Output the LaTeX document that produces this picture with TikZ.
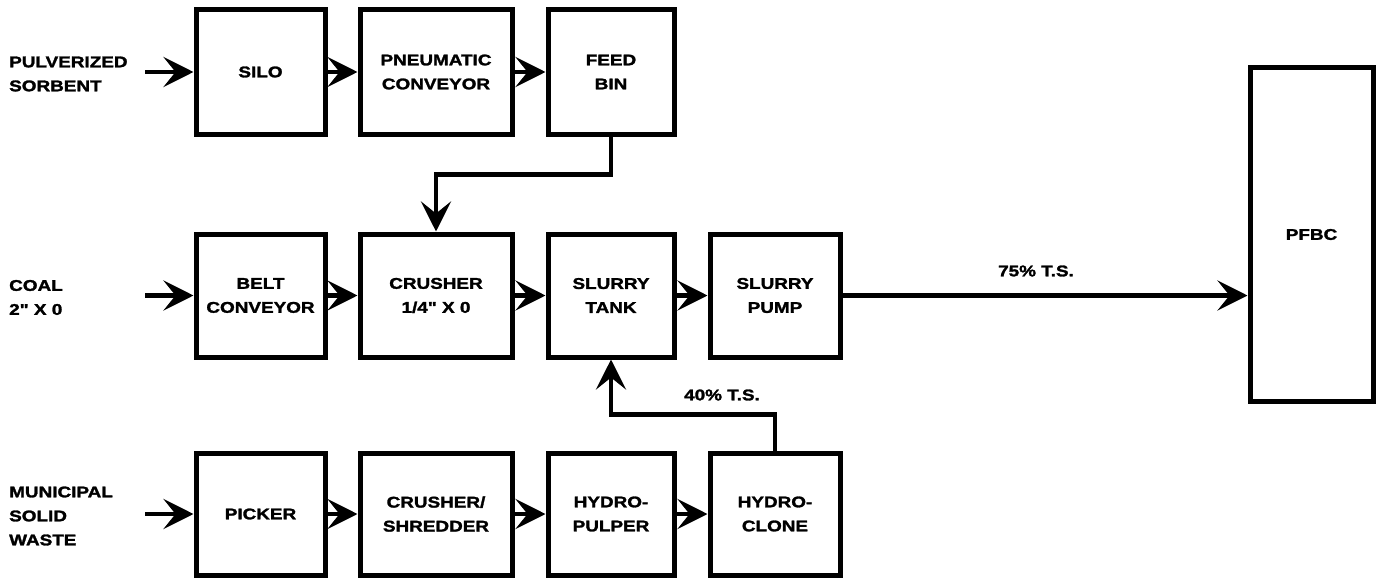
\documentclass[tikz,border=0pt]{standalone}
\usepackage{fontspec}
\setmainfont{Liberation Sans}[FakeStretch=1.22]
\newfontfamily\heavyfont{Liberation Sans}[FakeStretch=1.22, BoldFeatures={FakeBold=1.8}]
\usetikzlibrary{arrows.meta}
\newcommand{\inch}{\char34\relax}
\tikzset{
  txt/.style={font=\heavyfont\fontsize{15.5}{24}\selectfont\bfseries},
  blk/.style={draw, line width=5pt, inner sep=0pt, align=center, txt},
  lbl/.style={inner sep=0pt, align=left, anchor=west, txt},
  tag/.style={inner sep=0pt, txt},
  arr/.style={line width=4.5pt, -{Stealth[length=30pt,width=30pt,inset=12pt]}},
}
\begin{document}
\begin{tikzpicture}[x=1pt,y=-1pt]
\useasboundingbox (0,0) rectangle (1384,578);
% row 1
\node[blk, minimum width=129pt, minimum height=124pt] (silo) at (260.5,72) {SILO};
\node[blk, minimum width=152pt, minimum height=124pt] (pc) at (436,72) {PNEUMATIC\\CONVEYOR};
\node[blk, minimum width=126pt, minimum height=124pt] (fb) at (611,72) {FEED\\BIN};
% row 2
\node[blk, minimum width=129pt, minimum height=123pt] (bc) at (260.5,295.5) {BELT\\CONVEYOR};
\node[blk, minimum width=152pt, minimum height=123pt] (cr) at (436,295.5) {CRUSHER\\1/4\inch{} X 0};
\node[blk, minimum width=126pt, minimum height=123pt] (st) at (611,295.5) {SLURRY\\TANK};
\node[blk, minimum width=130pt, minimum height=123pt] (sp) at (775,295.5) {SLURRY\\PUMP};
% row 3
\node[blk, minimum width=129pt, minimum height=122pt] (pk) at (260.5,514) {PICKER};
\node[blk, minimum width=152pt, minimum height=122pt] (cs) at (436,514) {CRUSHER/\\SHREDDER};
\node[blk, minimum width=126pt, minimum height=122pt] (hp) at (611,514) {HYDRO-\\PULPER};
\node[blk, minimum width=130pt, minimum height=122pt] (hc) at (775,514) {HYDRO-\\CLONE};
% PFBC
\node[blk, minimum width=123pt, minimum height=333pt] (pf) at (1311.5,234.5) {PFBC};
% labels
\node[lbl] (l1) at (9,74) {PULVERIZED\\SORBENT};
\node[lbl] (l2) at (9,297.5) {COAL\\2\inch{} X 0};
\node[lbl] (l3) at (9,516) {MUNICIPAL\\SOLID\\WASTE};
\node[tag] (t75) at (1036,271) {75\% T.S.};
\node[tag] (t40) at (722,395) {40\% T.S.};
% input start points
\coordinate (i1) at (145,72);
\coordinate (i2) at (145,295.5);
\coordinate (i3) at (145,514);
% connectors
\draw[arr] (i1) -- (silo.west);
\draw[arr] (silo.east) -- (pc.west);
\draw[arr] (pc.east) -- (fb.west);
\draw[arr] (i2) -- (bc.west);
\draw[arr] (bc.east) -- (cr.west);
\draw[arr] (cr.east) -- (st.west);
\draw[arr] (st.east) -- (sp.west);
\draw[arr] (i3) -- (pk.west);
\draw[arr] (pk.east) -- (cs.west);
\draw[arr] (cs.east) -- (hp.west);
\draw[arr] (hp.east) -- (hc.west);
\draw[arr] (fb.south) -- ++(0,38) -| (cr.north);
\draw[arr] (hc.north) -- ++(0,-36) -| (st.south);
\draw[arr] (sp.east) -- (sp.east -| pf.west);
\end{tikzpicture}
\end{document}
